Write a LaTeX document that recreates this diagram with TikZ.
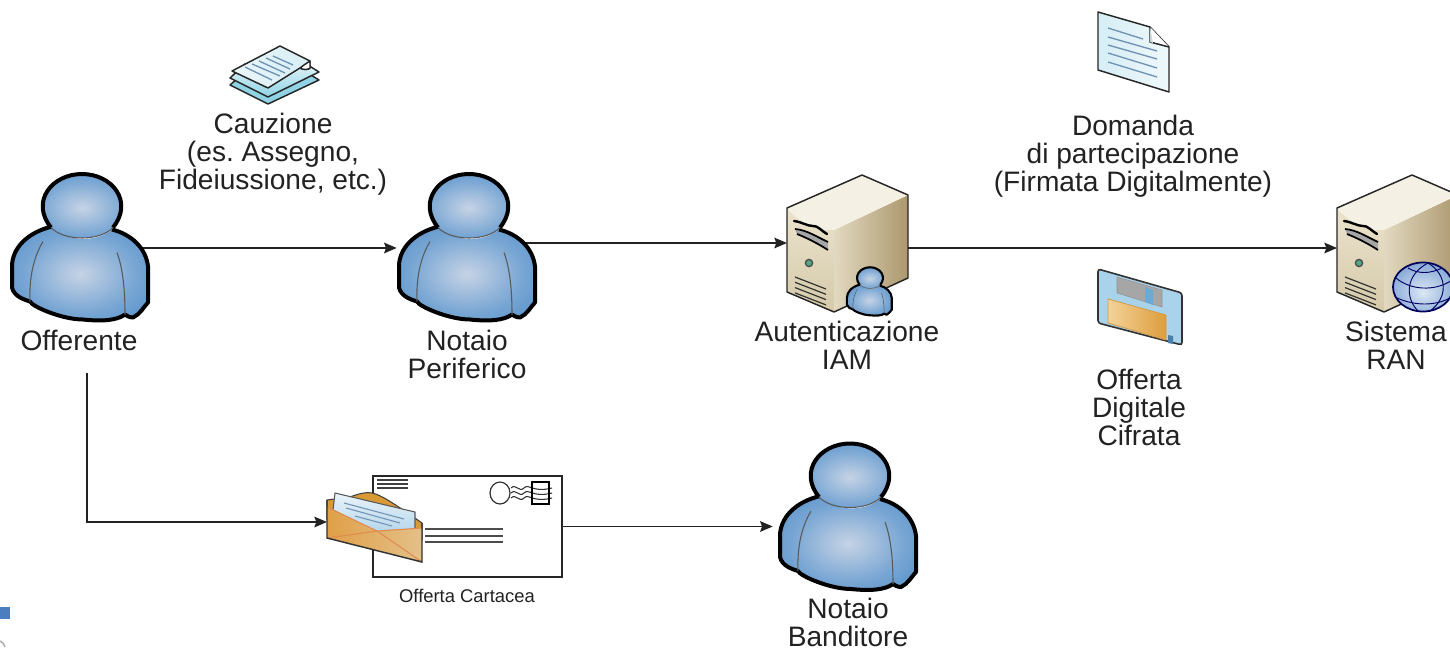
\documentclass[tikz,border=0pt]{standalone}
\usepackage{fontspec}
\setmainfont{Liberation Sans}
\frenchspacing
\usetikzlibrary{arrows.meta,calc,positioning}
\definecolor{ink}{HTML}{222222}
\definecolor{pc}{HTML}{C6D3E5}
\definecolor{pm}{HTML}{7AA7D4}
\definecolor{po}{HTML}{3F84C4}
\definecolor{gc}{HTML}{DDE8F4}
\definecolor{gm}{HTML}{8FAFD9}
\definecolor{go}{HTML}{3F62AC}
\definecolor{srvA}{HTML}{EBE3CD}
\definecolor{srvB}{HTML}{D5C9A9}
\definecolor{srvC}{HTML}{E2D9C0}
\definecolor{srvD}{HTML}{AC986E}
\definecolor{srvE}{HTML}{F4F0E4}
\definecolor{led}{HTML}{4FA883}
\definecolor{sheetA}{HTML}{8FD3E4}
\definecolor{sheetB}{HTML}{EAF6FA}
\definecolor{sheetC}{HTML}{D6EEF5}
\definecolor{sheetL}{HTML}{6F93B5}
\definecolor{flopA}{HTML}{A9D3EA}
\definecolor{flopB}{HTML}{6AAAD5}
\definecolor{flopC}{HTML}{F3D39A}
\definecolor{flopD}{HTML}{DD9D3C}
\definecolor{flopE}{HTML}{D49A45}
\definecolor{flopF}{HTML}{4A7FA8}
\definecolor{envA}{HTML}{D99A35}
\definecolor{envB}{HTML}{EAF3FA}
\definecolor{envC}{HTML}{B6D6EA}
\definecolor{envD}{HTML}{E0A048}
\definecolor{envE}{HTML}{E4C089}
\definecolor{envF}{HTML}{E08B4F}
\definecolor{frag}{HTML}{4A7EC0}
\pgfdeclareradialshading{personball}{\pgfpoint{0bp}{0bp}}{color(0bp)=(pc); color(20bp)=(pm); color(42bp)=(po); color(50bp)=(po)}
\pgfdeclareradialshading{globeball}{\pgfpoint{0bp}{-6bp}}{color(0bp)=(gc); color(25bp)=(gm); color(50bp)=(go)}
\tikzset{
  lbl/.style={inner sep=0pt,align=center,text=ink,font=\fontsize{21.1}{21}\selectfont},
  smalllbl/.style={inner sep=0pt,text=ink,font=\fontsize{13.8}{15}\selectfont},
  hitbox/.style={inner sep=0pt,minimum width=#1,minimum height=20pt},
  wire/.style={draw=ink,line width=1.1pt,-{Stealth[length=9.5pt,width=8pt,inset=1.5pt]}},
  edge/.style={draw=black!85,line width=1.1pt,line join=round}
}
% person icon: #1,#2 head centre, #3 scale, #4 outline width, #5 inner-line width
\newcommand\personicon[5]{%
\begin{scope}[shift={(#1,#2)},scale=#3]
  \path[shading=personball] (-30,20) .. controls (-55,26) and (-70,42) .. (-70,60) -- (-70,81)
     .. controls (-68,90) and (-58,93) .. (-52,95) .. controls (-50,100) and (-20,113) .. (1,113)
     .. controls (20,115) and (35,114) .. (43,108) .. controls (47,111) and (50,111) .. (51,111)
     .. controls (58,108) and (62,100) .. (66,96) -- (66,60) .. controls (64,42) and (50,28) .. (30,23)
     .. controls (15,36) and (-15,36) .. (-30,20) -- cycle;
  \draw[black,line width=#4,line join=round] (-30,20) .. controls (-55,26) and (-70,42) .. (-70,60) -- (-70,81)
     .. controls (-68,90) and (-58,93) .. (-52,95) .. controls (-50,100) and (-20,113) .. (1,113)
     .. controls (20,115) and (35,114) .. (43,108) .. controls (47,111) and (50,111) .. (51,111)
     .. controls (58,108) and (62,100) .. (66,96) -- (66,60) .. controls (64,42) and (50,28) .. (30,23);
  \draw[black!65,line width=#5] (-39,35) .. controls (-48,50) and (-53,70) .. (-52,95);
  \draw[black!65,line width=#5] (35,46) .. controls (42,65) and (43,90) .. (43,108);
  \path[shading=personball] (-31,21) .. controls (-52,-5) and (-30,-32.5) .. (0,-32.5)
     .. controls (30,-32.5) and (52,-5) .. (31,21) .. controls (18,35) and (-18,35) .. (-31,21) -- cycle;
  \draw[black,line width=#4] (-31,21) .. controls (-52,-5) and (-30,-32.5) .. (0,-32.5)
     .. controls (30,-32.5) and (52,-5) .. (31,21);
  \draw[black!65,line width=#5] (-31,21) .. controls (-18,35) and (18,35) .. (31,21);
\end{scope}}
% server icon, origin at (left edge, top vertex)
\newcommand\servericon[2]{%
\begin{scope}[shift={(#1,#2)}]
  \path[top color=srvA,bottom color=srvB] (0,33) .. controls (15,50) and (30,55) .. (47,55) -- (47,137) -- (0,117) -- cycle;
  \path[left color=srvC,right color=srvD] (47,55) -- (121,20) -- (121,103) -- (47,137) -- cycle;
  \path[fill=srvE] (0,33) -- (75,0) -- (121,20) -- (47,55) .. controls (30,55) and (15,50) .. (0,33) -- cycle;
  \draw[edge] (47,137) -- (0,117) -- (0,33) -- (75,0) -- (121,20) -- (121,103) -- (47,137);
  \draw[black,line width=1.8pt,line cap=round] (7,46) .. controls (15,47) and (20,51) .. (26,51) .. controls (30,50) and (36,57) .. (40,59);
  \fill[gray!70] (8,54) .. controls (20,55) and (30,62) .. (41,67) -- (41,75) .. controls (30,68) and (20,63) .. (10,59) -- cycle;
  \draw[black,line width=1.3pt] (8,54) .. controls (20,55) and (30,62) .. (41,67);
  \draw[black,line width=1.3pt] (10,59) .. controls (20,63) and (30,68) .. (41,75);
  \draw[black!70,line width=1pt,fill=led] (22,88) circle (3.6);
  \foreach \k in {0,1,2,3}{\draw[black!80,line width=.9pt] (8,{102+5.3*\k}) -- (39,{114+5.3*\k});}
\end{scope}}
\begin{document}
\begin{tikzpicture}[x=0.75pt,y=-0.75pt]
\useasboundingbox (0,0) rectangle (1450,647);
\clip (0,0) rectangle (1450,647);
\fill[white] (0,0) rectangle (1450,647);

% named anchors
\node[hitbox=90pt] (offerente) at (80,248) {};
\node[hitbox=105pt] (notaioP) at (467,248) {};
\coordinate (notaioOut) at (525,243);
\coordinate (iamIn) at (787,243);
\coordinate (iamOut) at (908,248);
\coordinate (ranIn) at (1337,248);
\coordinate (offDown) at (87,373);
\coordinate (offBend) at (87,522);
\coordinate (miniEnv) at (327,522);
\node[hitbox=112.5pt] (banditore) at (848,526.5) {};

% connectors
\draw[wire] (offerente.center) -- (notaioP.west);
\draw[wire] (notaioOut) -- (iamIn);
\draw[wire] (iamOut) -- (ranIn);
\draw[wire] (offDown) -- (offBend) -- (miniEnv);

% big envelope
\node[draw=black!85,line width=1.1pt,fill=white,minimum width=141.75pt,minimum height=75.75pt,inner sep=0pt] (cartacea) at (467.5,526.5) {};
\draw[wire] (cartacea.east) -- (banditore.west);
\foreach \y in {480,484,488}{\draw[black!75,line width=.8pt] (377,\y) -- (408,\y);}
\foreach \y in {529,536,542}{\draw[black!70,line width=1pt] (425,\y) -- (503,\y);}
\draw[black!80,line width=.9pt] (500,493) ellipse (10 and 11);
\foreach \d in {-5,0,5}{\draw[black!80,line width=.8pt] (511,493+\d) .. controls (516,488+\d) and (519,498+\d) .. (524,493+\d) .. controls (529,488+\d) and (532,498+\d) .. (552,493+\d);}
\draw[black,line width=.9pt] (532,482) rectangle (549,504);

% persons
\personicon{82}{206.5}{1}{3pt}{.8pt}
\personicon{469}{206.5}{1}{3pt}{.8pt}
\personicon{850}{476}{1}{3pt}{.8pt}

% servers
\servericon{787}{175}
\servericon{1337}{175}
\personicon{870}{278}{0.33}{1.6pt}{.4pt}

% globe
\path[shading=globeball] (1423,287) ellipse (30 and 24.5);
\draw[blue!35!black,line width=1.3pt] (1423,287) ellipse (30 and 24.5);
\draw[blue!40!black,line width=.7pt] (1396,278) .. controls (1410,290) and (1435,292) .. (1452,280);
\draw[blue!40!black,line width=.7pt] (1408,268) .. controls (1418,274) and (1430,274) .. (1442,268);
\draw[blue!40!black,line width=.7pt] (1397,298) .. controls (1415,306) and (1435,306) .. (1450,298);
\draw[blue!40!black,line width=.7pt] (1428,263) .. controls (1405,275) and (1405,298) .. (1418,311);
\draw[blue!40!black,line width=.7pt] (1428,263) .. controls (1448,275) and (1448,298) .. (1430,311);

% document stack
\path[edge,fill=sheetA] (230,85) -- (268,104) -- (319,80) -- (306,72) -- (245,72) -- cycle;
\path[edge,top color=sheetB,bottom color=sheetA] (230,78) -- (268,97) -- (319,72) -- (300,60) -- (245,64) -- cycle;
\path[edge,left color=sheetB,right color=sheetC] (280,46) -- (310,61) -- (310,68) .. controls (308,70) and (303,70) .. (300,68) -- (268,88) -- (232,71) -- cycle;
\draw[edge,fill=white] (310,61) -- (304,65) -- (300,68) .. controls (303,70) and (308,70) .. (310,68) -- cycle;
\draw[sheetL,line width=1pt] (273,56) -- (293,65);
\draw[sheetL,line width=1pt] (266,58) -- (290,69);
\draw[sheetL,line width=1pt] (259,61) -- (285,73);
\draw[sheetL,line width=1pt] (252,64) -- (280,76);
\draw[sheetL,line width=1pt] (245,67) -- (272,80);

% single document
\path[edge,left color=sheetC,right color=sheetC!40!white] (1098,12) -- (1150,27) -- (1169,47) -- (1169,92) -- (1098,70) -- cycle;
\path[edge,fill=white] (1150,27) -- (1150,42) -- (1169,47);
\fill[sheetC!80!gray] (1150,27) -- (1150,42) -- (1153,43) -- cycle;
\foreach \xa/\ya/\xb/\yb in {1108/28/1143/39,1108/37/1157/51,1108/45/1157/59,1108/53/1157/68,1108/62/1157/77}{\draw[sheetL,line width=1pt] (\xa,\ya) -- (\xb,\yb);}

% floppy
\path[draw=black!80,line width=1.2pt,rounded corners=2pt,fill=flopA] (1098,269) -- (1182,293) -- (1182,345) -- (1098,323) -- cycle;
\path[fill=gray!70,draw=gray!85] (1117,277) -- (1162,290) -- (1162,307) -- (1117,293) -- cycle;
\path[fill=flopB] (1145,287) -- (1153,290) -- (1153,305) -- (1145,302) -- cycle;
\path[left color=flopC,right color=flopD,draw=flopE,line width=.6pt] (1108,299) -- (1166,315) -- (1166,340) -- (1108,323) -- cycle;
\fill[flopF] (1168,335) -- (1173,336) -- (1173,344) -- (1168,343) -- cycle;

% small envelope
\path[fill=envA,draw=black!75,line width=.8pt] (327,500) -- (350,497) .. controls (360,493) and (368,492) .. (372,493) .. controls (382,495) and (395,505) .. (405,511) -- (422,523) -- (422,540) -- (327,520) -- cycle;
\path[top color=envB,bottom color=envC,draw=black!65,line width=.8pt] (335,493) -- (415,512) -- (415,530) -- (375,532) -- (333,510) -- cycle;
\foreach \xa/\ya/\xb/\yb in {344/503/404/519,346/508/400/523,355/516/392/526}{\draw[sheetL,line width=.8pt] (\xa,\ya) -- (\xb,\yb);}
\path[left color=envD,right color=envE] (327,507) -- (377,531) -- (422,528) -- (422,562) -- (327,538) -- cycle;
\draw[envF,line width=.8pt] (327,507) -- (377,531) -- (422,562);
\draw[envF,line width=.8pt] (327,538) -- (377,531) -- (422,528);
\draw[black!80,line width=1.1pt] (327,500) -- (327,538) -- (422,562) -- (422,523);

% bottom-left fragment
\fill[frag] (0,607) rectangle (10,619);
\draw[gray!60,line width=1.2pt] (0,641) .. controls (3,642) and (4,644) .. (5,647);

% labels
\node[lbl] (lCauzione) at (273,154) {Cauzione\\(es. Assegno,\\Fideiussione, etc.)};
\node[lbl] (lOfferente) at (79,340) {Offerente};
\node[lbl] (lNotaioP) at (467,354) {Notaio\\Periferico};
\node[lbl] (lIam) at (847,345) {Autenticazione\\IAM};
\node[lbl] (lDomanda) at (1133,156) {Domanda\\di partecipazione\\(Firmata Digitalmente)};
\node[lbl] (lOfferta) at (1139,407) {Offerta\\Digitale\\Cifrata};
\node[lbl] (lRan) at (1396,345) {Sistema\\RAN};
\node[lbl] (lBanditore) at (848,622) {Notaio\\Banditore};
\node[smalllbl] (lCartacea) at (467,596) {Offerta Cartacea};
\end{tikzpicture}
\end{document}
